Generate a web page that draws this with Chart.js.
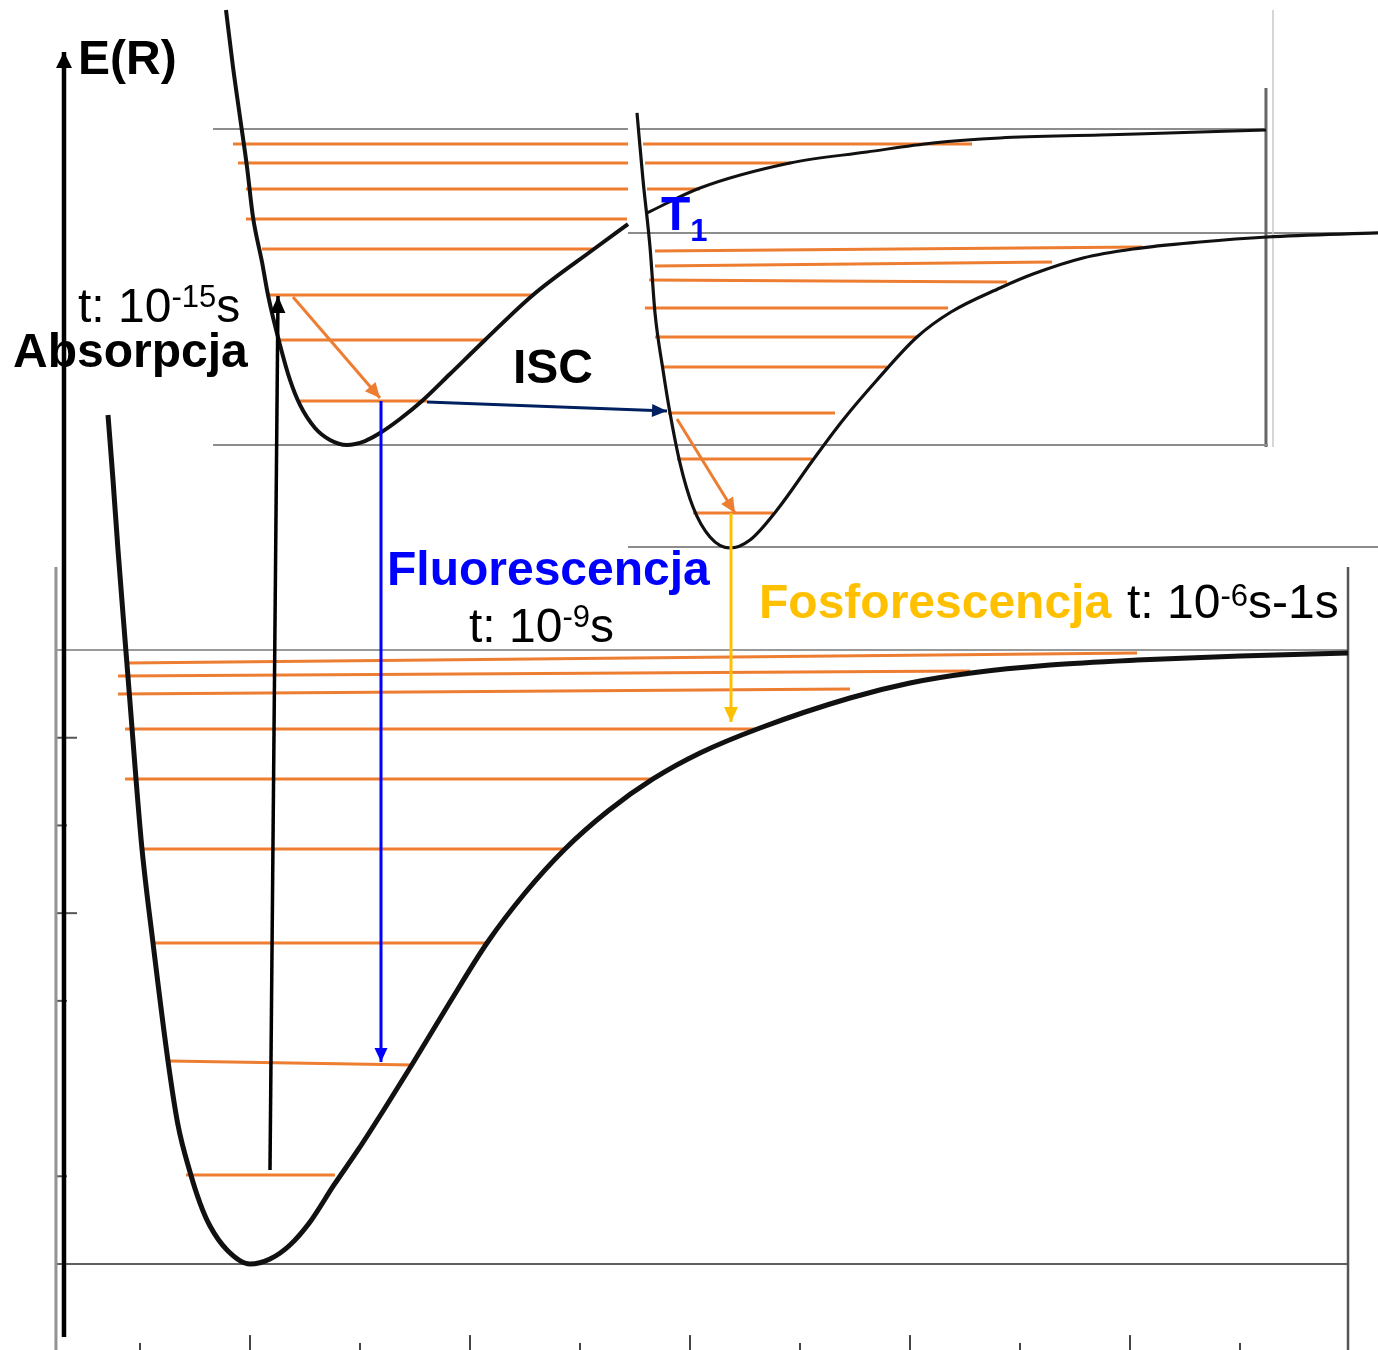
<!DOCTYPE html>
<html>
<head>
<meta charset="utf-8">
<script src="https://cdn.jsdelivr.net/npm/chart.js@4.4.1/dist/chart.umd.min.js"></script>
<style>
html,body{margin:0;padding:0;background:#fff;}
#wrap{width:1378px;height:1350px;position:relative;}
</style>
</head>
<body>
<div id="wrap"><canvas id="c" width="1378" height="1350"></canvas></div>
<script>
// ---- Data (R = internuclear distance, E = energy; arbitrary units) ----
// Ground state S0 potential curve
const s0R = [0.3545,0.3773,0.4000,0.4364,0.4591,0.4818,0.5091,0.5591,0.6273,0.6727,0.7273,0.7727,0.8182,0.8955,1.0000,
             1.0909,1.1818,1.2727,1.3818,1.4909,1.6136,1.7409,1.9091,2.0773,2.2500,2.4318,2.6273,2.8318,3.0455,
             3.3182,3.7273,4.0000,4.2773,4.6364,5.0318,5.5000,5.9909];
const s0E = [9.680,8.939,8.140,6.978,6.259,5.530,4.732,3.660,2.314,1.585,1.049,0.695,0.433,0.160,0.000,
             0.057,0.217,0.479,0.901,1.300,1.779,2.292,2.987,3.660,4.230,4.732,5.165,5.530,5.826,
             6.111,6.453,6.624,6.738,6.829,6.886,6.932,6.966];
// Excited singlet S1 curve (left part, then the tail behind the T1 panel)
const s1R = [0.8909,0.9227,0.9545,0.9864,1.0136,1.0545,1.0818,1.1364,1.1818,1.2273,1.2955,1.3636,1.4409,
             1.5227,1.5909,1.6818,1.7818,1.9091,2.0682,2.2864,2.5636,2.7182];
const s1E = [14.297,13.647,13.077,12.507,11.937,11.424,11.048,10.478,10.079,9.794,9.531,9.395,9.338,
             9.383,9.474,9.634,9.839,10.147,10.535,11.048,11.572,11.857];
const s1TailR = [2.8045,3.0455,3.4545,3.8045,4.1045,4.4091,4.8636,5.3182,5.6182];
const s1TailE = [11.983,12.268,12.553,12.678,12.781,12.838,12.872,12.906,12.929];
// Triplet T1 curve
const t1R = [2.7591,2.7864,2.8182,2.8409,2.8773,2.9091,2.9545,3.0136,3.0909,3.1818,3.2727,3.3955,3.5591,
             3.6955,3.8500,4.0318,4.1864,4.4091,4.5591,4.7864,5.0136,5.3182,5.6227,6.1273];
const t1E = [13.123,12.359,11.595,10.843,10.193,9.702,9.132,8.631,8.289,8.163,8.255,8.597,9.167,
             9.623,10.079,10.569,10.854,11.128,11.287,11.470,11.572,11.652,11.709,11.755];

// Vibrational levels [R start, E start, R end, E end]
const s0Levels = [[0.709,1.015,1.386,1.015],[0.636,2.314,1.741,2.269],[0.568,3.660,2.077,3.660],
                  [0.500,4.732,2.432,4.732],[0.432,5.530,2.832,5.530],[0.432,6.100,3.318,6.100],
                  [0.400,6.499,3.727,6.556],[0.400,6.704,4.273,6.761],[0.441,6.852,5.032,6.966]];
const s1Levels = [[0.9227,12.770,2.7182,12.770],[2.7864,12.770,4.2818,12.770],
                  [0.9455,12.553,2.7182,12.553],[2.7955,12.553,3.4591,12.553],
                  [0.9818,12.256,2.7182,12.256],[2.8045,12.256,3.0455,12.256],
                  [0.9818,11.914,2.7136,11.914],[1.0545,11.572,2.5636,11.572],
                  [1.0818,11.048,2.2864,11.048],[1.1364,10.535,2.0682,10.535],
                  [1.2273,9.839,1.8045,9.839]];
const t1Levels = [[2.841,11.549,5.055,11.595],[2.841,11.378,4.645,11.424],[2.814,11.219,4.441,11.196],
                  [2.795,10.900,4.173,10.900],[2.841,10.569,4.036,10.569],[2.873,10.227,3.895,10.227],
                  [2.900,9.702,3.659,9.702],[2.941,9.178,3.555,9.178],[3.014,8.562,3.377,8.562]];

// Transitions [R start, E start, R end, E end]
const absorption   = [1.0909,1.072,1.1273,11.036];
const relaxS1      = [1.1955,11.025,1.5909,9.873];
const fluorescence = [1.5955,9.839,1.5955,2.303];
const isc          = [1.8045,9.828,2.8955,9.725];
const relaxT1      = [2.9409,9.634,3.2045,8.562];
const phosphor     = [3.1864,8.562,3.1864,6.179];
const energyAxis   = [0.1545,-0.832,0.1545,13.818];

// Panel frames / axes
const s0FrameR = [0.118,5.991];          // left and right borders
const s0FrameE = [-0.981,7.947];
const s0GridE  = [0,7];
const s0TickMajorE = [4,6];
const s0TickMinorE = [1,3,5];
const s0TickMajorR = [1,2,3,4,5];
const s0TickMinorR = [0.5,1.5,2.5,3.5,4.5,5.5];
const s1GridTop    = [[0.832,2.718],[2.773,5.618]];
const s1GridTopE   = 12.94;
const s1GridBottom = [0.832,5.627];
const s1GridBottomE= 9.338;
const s1BorderR    = [5.618,5.650];
const s1BorderE    = [[9.315,13.408],[9.315,14.297]];
const t1GridE      = [11.755,8.175];
const t1GridR      = [2.718,6.1273];

// Texts
const annotations = [
  {r:0.2182, e:13.568, parts:[{t:'E(R)', f:'B'}]},
  {r:0.2182, e:10.740, parts:[{t:'t: 10', f:'R'},{t:'-15', f:'S', dy:-15},{t:'s', f:'R'}]},
  {r:-0.0773, e:10.227, parts:[{t:'Absorpcja', f:'B'}]},
  {r:2.1955, e:10.044, parts:[{t:'ISC', f:'B'}]},
  {r:2.8682, e:11.789, parts:[{t:'T', f:'B', c:'#0000FF'},{t:'1', f:'SB', c:'#0000FF', dy:11}]},
  {r:1.6227, e:7.741, parts:[{t:'Fluorescencja', f:'B', c:'#0000FF'}]},
  {r:1.9955, e:7.092, parts:[{t:'t: 10', f:'R'},{t:'-9', f:'S', dy:-15},{t:'s', f:'R'}]},
  {r:3.3136, e:7.365, parts:[{t:'Fosforescencja', f:'B', c:'#FFC000'}]},
  {r:4.9864, e:7.365, parts:[{t:'t: 10', f:'R'},{t:'-6', f:'S', dy:-12},{t:'s-1s', f:'R'}]}
];

// ---- Build datasets ----
const ORANGE = '#ED7D31', GRID = '#8c8c8c';
const datasets = [];
function zip(R, E){ return R.map((r,i)=>({x:r, y:E[i]})); }
function seg(a){ return [{x:a[0], y:a[1]},{x:a[2], y:a[3]}]; }
function add(data, color, width, order, extra){
  datasets.push(Object.assign({data, borderColor:color, backgroundColor:color, borderWidth:width,
    showLine:true, pointRadius:0, pointHoverRadius:0, tension:0, fill:false, order}, extra||{}));
}
const smooth = {cubicInterpolationMode:'monotone', borderJoinStyle:'round'};

// frames
s0FrameR.forEach((r,i)=>add(seg([r,s0FrameE[0],r,s0FrameE[1]]), i===0?'#939393':'#555', i===0?3:2.5, 9));
s0GridE.forEach((e,i)=>add(seg([s0FrameR[0],e,s0FrameR[1],e]), i===0?'#606060':'#777', i===0?2:1.6, 9));
s0TickMajorE.forEach(e=>add(seg([0.118,e,0.2136,e]), '#555', 2, 9));
s0TickMinorE.forEach(e=>add(seg([0.118,e,0.168,e]), '#555', 2, 9));
s0TickMajorR.forEach(r=>add(seg([r,-0.981,r,-0.81]), '#444', 2, 9));
s0TickMinorR.forEach(r=>add(seg([r,-0.981,r,-0.90]), '#444', 2, 9));
s1GridTop.forEach(s=>add(seg([s[0],s1GridTopE,s[1],s1GridTopE]), GRID, 2, 9));
add(seg([s1GridBottom[0],s1GridBottomE,s1GridBottom[1],s1GridBottomE]), GRID, 2, 9);
s1BorderR.forEach((r,i)=>add(seg([r,s1BorderE[i][0],r,s1BorderE[i][1]]), i===0?'#666':'#c8c8c8', i===0?3:1.5, 9));
t1GridE.forEach(e=>add(seg([t1GridR[0],e,t1GridR[1],e]), GRID, 2, 9));

// vibrational levels
[s0Levels, s1Levels, t1Levels].forEach(g=>g.forEach(l=>add(seg(l), ORANGE, 3, 6)));

// potential curves
add(zip(s0R,s0E), '#111', 5, 4, smooth);
add(zip(s1R,s1E), '#111', 4, 4, smooth);
add(zip(s1TailR,s1TailE), '#111', 3, 4, smooth);
add(zip(t1R,t1E), '#111', 3.2, 4, smooth);

// transitions
add(seg(energyAxis), '#000', 4.5, 1, {arrowHead:[16,8]});
add(seg(absorption), '#000', 3.5, 1, {arrowHead:[17,7.5]});
add(seg(relaxS1), ORANGE, 3, 1, {arrowHead:[15,7]});
add(seg(fluorescence), '#0000FF', 3, 1, {arrowHead:[14,6.5]});
add(seg(isc), '#002060', 3, 1, {arrowHead:[15,6.5]});
add(seg(relaxT1), ORANGE, 3, 1, {arrowHead:[15,7]});
add(seg(phosphor), '#FFC000', 3, 1, {arrowHead:[15,7]});

// ---- Plugins ----
const arrowPlugin = {
  id:'arrowHeads',
  afterDatasetsDraw(chart){
    const ctx = chart.ctx;
    chart.data.datasets.forEach((ds,i)=>{
      if(!ds.arrowHead) return;
      const meta = chart.getDatasetMeta(i);
      const a = meta.data[meta.data.length-2], b = meta.data[meta.data.length-1];
      const ang = Math.atan2(b.y-a.y, b.x-a.x);
      const L = ds.arrowHead[0], W = ds.arrowHead[1];
      const bx = b.x - L*Math.cos(ang), by = b.y - L*Math.sin(ang);
      ctx.save();
      ctx.fillStyle = ds.borderColor;
      ctx.beginPath();
      ctx.moveTo(b.x, b.y);
      ctx.lineTo(bx + W*Math.sin(ang), by - W*Math.cos(ang));
      ctx.lineTo(bx - W*Math.sin(ang), by + W*Math.cos(ang));
      ctx.closePath();
      ctx.fill();
      ctx.restore();
    });
  }
};
const FONTS = {
  B:'bold 48px "Liberation Sans", Arial, sans-serif',
  R:'48px "Liberation Sans", Arial, sans-serif',
  S:'31px "Liberation Sans", Arial, sans-serif',
  SB:'bold 31px "Liberation Sans", Arial, sans-serif'
};
const textPlugin = {
  id:'texts',
  afterDraw(chart){
    const ctx = chart.ctx, xs = chart.scales.x, ys = chart.scales.y;
    ctx.save();
    ctx.textAlign = 'left';
    ctx.textBaseline = 'alphabetic';
    annotations.forEach(a=>{
      let x = xs.getPixelForValue(a.r);
      const y = ys.getPixelForValue(a.e);
      a.parts.forEach(p=>{
        ctx.font = FONTS[p.f];
        ctx.fillStyle = p.c || '#000';
        ctx.fillText(p.t, x, y + (p.dy||0));
        x += ctx.measureText(p.t).width;
      });
    });
    ctx.restore();
  }
};

new Chart(document.getElementById('c'), {
  type:'scatter',
  data:{datasets},
  options:{
    responsive:false,
    animation:false,
    events:[],
    layout:{padding:0},
    plugins:{legend:{display:false}, tooltip:{enabled:false}},
    scales:{
      x:{type:'linear', min:-0.13636, max:6.12727, display:false},
      y:{type:'linear', min:-0.98050, max:14.4111, display:false}
    }
  },
  plugins:[arrowPlugin, textPlugin]
});
</script>
</body>
</html>
